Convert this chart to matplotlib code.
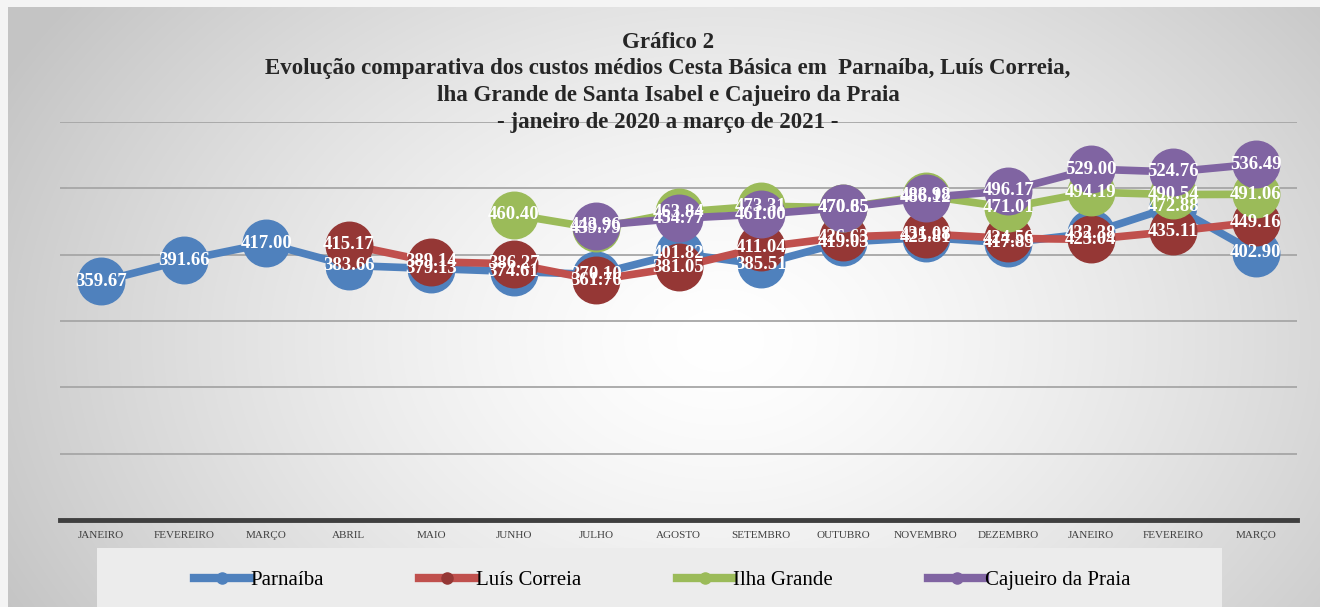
import numpy as np
import matplotlib
matplotlib.use("Agg")
import matplotlib.pyplot as plt
from matplotlib.patches import Rectangle

meses = ["JANEIRO", "FEVEREIRO", "MARÇO", "ABRIL", "MAIO", "JUNHO", "JULHO", "AGOSTO",
         "SETEMBRO", "OUTUBRO", "NOVEMBRO", "DEZEMBRO", "JANEIRO", "FEVEREIRO", "MARÇO"]
nan = np.nan
parnaiba = [359.67, 391.66, 417.00, 383.66, 379.13, 374.61, 370.10, 401.82,
            385.51, 419.03, 425.81, 417.85, 432.38, 472.88, 402.90]
luis_correia = [nan, nan, nan, 415.17, 389.14, 386.27, 361.76, 381.05,
                411.04, 426.63, 431.08, 424.56, 423.04, 435.11, 449.16]
ilha_grande = [nan, nan, nan, nan, nan, 460.40, 439.79, 463.84,
               473.31, 470.65, 488.98, 471.01, 494.19, 490.54, 491.06]
cajueiro = [nan, nan, nan, nan, nan, nan, 443.96, 454.77,
            461.00, 470.85, 486.12, 496.17, 529.00, 524.76, 536.49]

series = [
    ("Parnaíba", parnaiba, "#4f81bd", "#4f81bd"),
    ("Luís Correia", luis_correia, "#c0504d", "#953735"),
    ("Ilha Grande", ilha_grande, "#9bbb59", "#9bbb59"),
    ("Cajueiro da Praia", cajueiro, "#8064a2", "#8064a2"),
]

serif = "Liberation Serif"
W, H = 1320, 607
fig = plt.figure(figsize=(W / 100, H / 100), dpi=100)

# fundo com gradiente
bg = fig.add_axes([0, 0, 1, 1], zorder=-10)
yy, xx = np.mgrid[0:H, 0:W]
r = np.sqrt(((xx - 720) / 780.0) ** 2 + ((yy - 340) / 560.0) ** 2)
g = np.clip(1.0 - 0.22 * r ** 1.4, 0.77, 1.0)
img = np.dstack([g, g, g])
img[:7, :, :] = 0.96
img[:, :8, :] = 0.96
bg.imshow(img, aspect="auto", extent=[0, 1, 0, 1], origin="upper")
bg.set_xlim(0, 1)
bg.set_ylim(0, 1)
bg.axis("off")

ax = fig.add_axes([60 / W, 1 - 520 / H, (1297 - 60) / W, (520 - 122) / H])
ax.patch.set_alpha(0)
x = np.arange(len(meses))
for i, (nome, vals, cor, cor_m) in enumerate(series):
    ax.plot(x, vals, color=cor, lw=5.5, marker="o", ms=33.5, mfc=cor_m, mec=cor_m,
            zorder=3 + i, solid_capstyle="round")
for nome, vals, cor, cor_m in series:
    for xi, v in zip(x, vals):
        if np.isnan(v):
            continue
        ax.text(xi, v, f"{v:.2f}", ha="center", va="center", color="white",
                fontsize=13.5, fontweight="bold", family=serif, zorder=10)

ax.set_xlim(-0.5, len(meses) - 0.5)
ax.set_ylim(0, 600)
ax.set_yticks(np.arange(100, 601, 100))
ax.yaxis.grid(True, color="#a6a6a6", lw=1.3)
ax.set_axisbelow(True)
ax.tick_params(axis="y", left=False, labelleft=False)
ax.set_xticks(x)
ax.set_xticklabels(meses, fontsize=8, family=serif, color="#404040")
ax.tick_params(axis="x", length=0, pad=8)
for s in ["top", "right", "left"]:
    ax.spines[s].set_visible(False)
ax.spines["bottom"].set_color("#3f3f3f")
ax.spines["bottom"].set_linewidth(3.5)

titulo = ["Gráfico 2",
          "Evolução comparativa dos custos médios Cesta Básica em  Parnaíba, Luís Correia,",
          "lha Grande de Santa Isabel e Cajueiro da Praia",
          "- janeiro de 2020 a março de 2021 -"]
for k, linha in enumerate(titulo):
    fig.text(668 / W, 1 - (42 + k * 26.7) / H, linha, ha="center", va="center",
             fontsize=16.5, fontweight="bold", family=serif, color="#262626")

# caixa da legenda
fig.patches.append(Rectangle((97 / W, 0), (1222 - 97) / W, (607 - 548) / H,
                             transform=fig.transFigure, facecolor="#ececec",
                             edgecolor="none", zorder=-5))
handles = [plt.Line2D([], [], color=c, lw=6, marker="o", ms=8, mfc=cm, mec=cm)
           for _, _, c, cm in series]
fig.legend(handles, [s[0] for s in series], loc="center", bbox_to_anchor=(662 / W, 1 - 580 / H),
           ncol=4, frameon=False, handlelength=2.7, handletextpad=0.0, columnspacing=4.6,
           prop={"family": serif, "size": 15})

fig.savefig("out.png", dpi=100)
